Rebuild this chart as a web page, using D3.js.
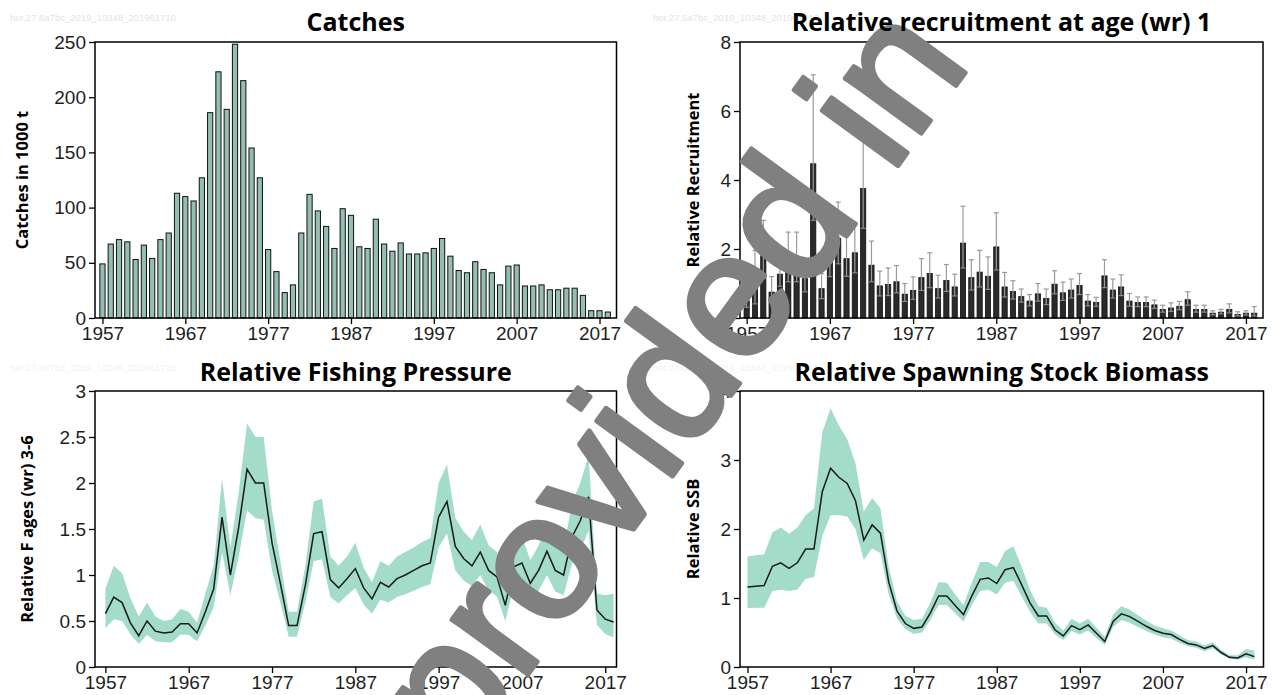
<!DOCTYPE html>
<html>
<head>
<meta charset="utf-8">
<script src="https://cdn.jsdelivr.net/npm/d3@7"></script>
<style>
body { margin: 0; background: #fff; }
svg text { font-family: "Liberation Sans Narrow", "Liberation Sans", Arial, sans-serif; }
.title, .ylab { font-family: "Open Sans", sans-serif; font-weight: 700; fill: #000; }
</style>
</head>
<body>
<svg id="chart" width="1274" height="695"></svg>
<script>
const FIRST_YEAR = 1957;
const yearTicks = [1957, 1967, 1977, 1987, 1997, 2007, 2017];
const catchTicks = [0, 50, 100, 150, 200, 250];
const recTicks = [0, 2, 4, 6, 8];
const fTicks = [0, 0.5, 1, 1.5, 2, 2.5, 3];
const ssbTicks = [0, 1, 2, 3, 4];

// catches in 1000 t, 1957-2018
const catches = [49, 67, 71, 69, 53, 66, 54, 71, 77, 113, 110, 106, 127, 186, 223, 189, 248, 215, 154, 127,
    62, 42, 23, 30, 77, 112, 97, 83, 63, 99, 93, 64.5, 63, 89.5, 67, 60.5, 68, 58, 58, 59,
    63, 72, 56, 43, 41, 51, 44, 41, 30, 47, 48, 29, 29, 30, 25.6, 25.6, 27, 27, 20.5, 6.6,
    6.6, 5.4];

// relative recruitment at age 1, 1957-2018, with interval
const recruit = [0.5, 0.9, 1.8, 0.75, 1.27, 1.55, 1.55, 1.14, 4.47, 0.85, 1.7, 2.3, 1.72, 1.89, 3.75, 1.53, 0.93, 0.97, 1.05, 0.69,
    0.8, 1.17, 1.29, 0.85, 1.09, 0.9, 2.17, 1.17, 1.33, 1.21, 2.06, 0.9, 0.77, 0.62, 0.49, 0.7, 0.57, 0.98, 0.73, 0.81,
    0.94, 0.49, 0.45, 1.22, 0.81, 0.9, 0.49, 0.45, 0.45, 0.38, 0.25, 0.29, 0.34, 0.53, 0.25, 0.25, 0.14, 0.17, 0.25, 0.1,
    0.14, 0.14];
const recruitHigh = [0.8, 1.96, 2.83, 1.2, 1.75, 2.49, 2.49, 1.72, 7.05, 1.29, 2.4, 3.36, 2.44, 2.73, 5.4, 2.23, 1.36, 1.45, 1.52, 1.0,
    1.19, 1.72, 1.89, 1.24, 1.55, 1.27, 3.24, 1.69, 1.96, 1.77, 3.05, 1.32, 1.08, 0.84, 0.68, 1.0, 0.84, 1.37, 1.04, 1.13,
    1.29, 0.68, 0.6, 1.69, 1.13, 1.25, 0.71, 0.61, 0.61, 0.52, 0.37, 0.44, 0.48, 0.76, 0.37, 0.37, 0.21, 0.25, 0.41, 0.18,
    0.21, 0.33];
const recruitLow = [0.31, 0.41, 1.14, 0.47, 0.92, 1.05, 1.05, 0.76, 2.83, 0.56, 1.2, 1.57, 1.21, 1.31, 2.6, 1.05, 0.64, 0.65, 0.73, 0.48,
    0.54, 0.8, 0.88, 0.58, 0.77, 0.64, 1.45, 0.81, 0.9, 0.83, 1.39, 0.61, 0.55, 0.46, 0.35, 0.49, 0.39, 0.7, 0.51, 0.58,
    0.68, 0.35, 0.34, 0.88, 0.58, 0.65, 0.34, 0.33, 0.33, 0.28, 0.17, 0.19, 0.24, 0.37, 0.17, 0.17, 0.09, 0.12, 0.15, 0.06,
    0.09, 0.06];

// relative F ages 3-6, 1957-2018
const fishing = [0.58, 0.76, 0.70, 0.48, 0.34, 0.50, 0.39, 0.37, 0.38, 0.47, 0.47, 0.37, 0.60, 0.85, 1.63, 1.0, 1.52, 2.15, 2.0, 2.0,
    1.35, 0.91, 0.45, 0.45, 0.89, 1.45, 1.47, 0.95, 0.86, 0.96, 1.07, 0.86, 0.74, 0.92, 0.87, 0.96, 1.0, 1.05, 1.1, 1.13,
    1.63, 1.80, 1.31, 1.18, 1.1, 1.25, 1.05, 0.98, 0.67, 1.09, 1.13, 0.91, 1.05, 1.26, 1.05, 1.0, 1.41, 1.59, 1.85, 0.62,
    0.52, 0.49];
const fishingHigh = [0.85, 1.1, 1.02, 0.75, 0.55, 0.7, 0.55, 0.5, 0.52, 0.63, 0.6, 0.48, 0.8, 1.1, 2.05, 1.3, 1.9, 2.65, 2.5, 2.5,
    1.7, 1.15, 0.6, 0.6, 1.1, 1.8, 1.83, 1.2, 1.1, 1.2, 1.35, 1.08, 0.92, 1.15, 1.1, 1.2, 1.25, 1.3, 1.36, 1.4,
    2.0, 2.2, 1.62, 1.47, 1.38, 1.55, 1.32, 1.25, 0.88, 1.38, 1.42, 1.16, 1.32, 1.58, 1.33, 1.28, 1.78, 2.0, 2.3, 0.8,
    0.78, 0.8];
const fishingLow = [0.42, 0.52, 0.5, 0.36, 0.25, 0.35, 0.28, 0.27, 0.27, 0.35, 0.35, 0.28, 0.45, 0.65, 1.25, 0.78, 1.2, 1.7, 1.62, 1.6,
    1.05, 0.7, 0.33, 0.33, 0.7, 1.15, 1.17, 0.76, 0.69, 0.78, 0.86, 0.68, 0.58, 0.73, 0.7, 0.76, 0.79, 0.83, 0.87, 0.9,
    1.3, 1.45, 1.05, 0.94, 0.88, 1.0, 0.83, 0.77, 0.5, 0.86, 0.9, 0.71, 0.83, 1.0, 0.82, 0.78, 1.12, 1.27, 1.48, 0.46,
    0.36, 0.32];

// relative SSB, 1957-2018
const ssb = [1.16, 1.17, 1.18, 1.46, 1.51, 1.43, 1.51, 1.71, 1.71, 2.54, 2.88, 2.75, 2.66, 2.41, 1.84, 2.06, 1.94, 1.23, 0.81, 0.63,
    0.56, 0.58, 0.78, 1.03, 1.03, 0.89, 0.76, 1.03, 1.27, 1.29, 1.21, 1.41, 1.44, 1.19, 0.93, 0.74, 0.74, 0.54, 0.45, 0.6,
    0.54, 0.61, 0.49, 0.37, 0.66, 0.77, 0.73, 0.66, 0.59, 0.53, 0.49, 0.47, 0.40, 0.34, 0.32, 0.27, 0.31, 0.21, 0.14, 0.13,
    0.19, 0.15];
const ssbHigh = [1.6, 1.62, 1.63, 1.95, 2.02, 1.93, 2.02, 2.2, 2.3, 3.4, 3.75, 3.5, 3.3, 2.95, 2.25, 2.45, 2.3, 1.45, 0.95, 0.74,
    0.68, 0.7, 0.93, 1.23, 1.22, 1.05, 0.9, 1.22, 1.52, 1.52, 1.45, 1.68, 1.75, 1.45, 1.12, 0.88, 0.86, 0.64, 0.53, 0.7,
    0.63, 0.7, 0.57, 0.44, 0.76, 0.88, 0.83, 0.75, 0.67, 0.6, 0.56, 0.53, 0.46, 0.39, 0.37, 0.31, 0.36, 0.25, 0.17, 0.17,
    0.26, 0.24];
const ssbLow = [0.85, 0.86, 0.86, 1.1, 1.12, 1.1, 1.12, 1.28, 1.3, 1.9, 2.2, 2.2, 2.18, 2.0, 1.55, 1.72, 1.65, 1.05, 0.7, 0.55,
    0.48, 0.5, 0.68, 0.9, 0.9, 0.78, 0.66, 0.9, 1.1, 1.12, 1.05, 1.22, 1.25, 1.02, 0.8, 0.63, 0.63, 0.47, 0.39, 0.52,
    0.47, 0.53, 0.42, 0.32, 0.58, 0.68, 0.64, 0.58, 0.52, 0.47, 0.43, 0.41, 0.35, 0.3, 0.28, 0.23, 0.27, 0.18, 0.12, 0.11,
    0.14, 0.11];

const BAND_COLOR = "#a3dcc8";
const BAR_COLOR = "#93bfae";
const svg = d3.select("#chart");
const marks = svg.append("g");
const overlay = svg.append("g");   // watermark sits above the plots
const titles = svg.append("g");    // titles stay readable on top

function panel(opt) {
    const x = d3.scaleLinear().domain(opt.xDomain).range([opt.left, opt.right]);
    const y = d3.scaleLinear().domain(opt.yDomain).range([opt.bottom, opt.top]);
    const g = marks.append("g");

    marks.append("text")
        .attr("x", opt.stampX).attr("y", opt.titleY - 10)
        .attr("font-size", 9.5).attr("fill", opt.stampColor)
        .style("font-family", "Liberation Sans, sans-serif")
        .text("her.27.6a7bc_2019_10348_201961710");

    titles.append("text")
        .attr("class", "title")
        .attr("x", (opt.left + opt.right) / 2).attr("y", opt.titleY)
        .attr("text-anchor", "middle").attr("font-size", 25)
        .text(opt.title);

    marks.append("text")
        .attr("class", "ylab")
        .attr("transform", `translate(${opt.ylabX},${(opt.top + opt.bottom) / 2}) rotate(-90)`)
        .attr("text-anchor", "middle").attr("font-size", 16.5)
        .text(opt.ylab);

    const yAxis = marks.append("g")
        .attr("transform", `translate(${opt.left},0)`)
        .call(d3.axisLeft(y).tickValues(opt.yTicks).tickSize(6).tickPadding(3).tickFormat(d3.format("")));
    const xAxis = marks.append("g")
        .attr("transform", `translate(0,${opt.bottom})`)
        .call(d3.axisBottom(x).tickValues(yearTicks).tickSize(6).tickPadding(3).tickFormat(d3.format("d")));
    [yAxis, xAxis].forEach(a => {
        a.select(".domain").remove();
        a.selectAll("line").attr("stroke", "#000").attr("stroke-width", 1.3);
        a.selectAll("text").attr("font-size", 19).attr("fill", "#1e1e1e")
            .style("font-family", "'Liberation Sans Narrow', 'Liberation Sans', sans-serif");
    });

    return { x, y, g, opt };
}

function frame(p) {
    marks.append("rect")
        .attr("x", p.opt.left).attr("y", p.opt.top)
        .attr("width", p.opt.right - p.opt.left).attr("height", p.opt.bottom - p.opt.top)
        .attr("fill", "none").attr("stroke", "#000").attr("stroke-width", 1.5);
}

const years = d3.range(FIRST_YEAR, FIRST_YEAR + catches.length);

// Catches
const p1 = panel({ left: 95, right: 616.5, top: 42, bottom: 318, xDomain: [1956.1, 2019.05], yDomain: [0, 250],
    yTicks: catchTicks, title: "Catches", titleY: 31, ylab: "Catches in 1000 t", ylabX: 28, stampX: 10, stampColor: "#e4e4e4" });
p1.g.selectAll("rect").data(catches).join("rect")
    .attr("x", (d, i) => p1.x(years[i]) - 2.6)
    .attr("width", 5.2)
    .attr("y", d => p1.y(d))
    .attr("height", d => p1.y(0) - p1.y(d))
    .attr("fill", BAR_COLOR).attr("stroke", "#111").attr("stroke-width", 1);
frame(p1);

// Recruitment
const p2 = panel({ left: 740, right: 1263, top: 42, bottom: 318, xDomain: [1956.2, 2019.05], yDomain: [0, 8],
    yTicks: recTicks, title: "Relative recruitment at age (wr) 1", titleY: 31, ylab: "Relative Recruitment", ylabX: 699,
    stampX: 653, stampColor: "#e4e4e4" });
p2.g.selectAll("rect").data(recruit).join("rect")
    .attr("x", (d, i) => p2.x(years[i]) - 2.6)
    .attr("width", 5.2)
    .attr("y", d => p2.y(d))
    .attr("height", d => p2.y(0) - p2.y(d))
    .attr("fill", "#2a2a2a").attr("stroke", "#111").attr("stroke-width", 0.8);
const err = p2.g.selectAll("g.err").data(recruit).join("g").attr("class", "err");
err.append("line")
    .attr("x1", (d, i) => p2.x(years[i])).attr("x2", (d, i) => p2.x(years[i]))
    .attr("y1", (d, i) => p2.y(recruitLow[i])).attr("y2", (d, i) => p2.y(recruitHigh[i]))
    .attr("stroke", "#9a9a9a").attr("stroke-width", 1.2);
err.append("line")
    .attr("x1", (d, i) => p2.x(years[i]) - 2.5).attr("x2", (d, i) => p2.x(years[i]) + 2.5)
    .attr("y1", (d, i) => p2.y(recruitHigh[i])).attr("y2", (d, i) => p2.y(recruitHigh[i]))
    .attr("stroke", "#9a9a9a").attr("stroke-width", 1.2);
err.append("line")
    .attr("x1", (d, i) => p2.x(years[i]) - 2.5).attr("x2", (d, i) => p2.x(years[i]) + 2.5)
    .attr("y1", (d, i) => p2.y(recruitLow[i])).attr("y2", (d, i) => p2.y(recruitLow[i]))
    .attr("stroke", "#8a8a8a").attr("stroke-width", 1.2);
frame(p2);

// Fishing pressure
const p3 = panel({ left: 95, right: 616.5, top: 391, bottom: 667, xDomain: [1955.75, 2018.35], yDomain: [0, 3],
    yTicks: fTicks, title: "Relative Fishing Pressure", titleY: 381, ylab: "Relative F ages (wr) 3-6", ylabX: 33,
    stampX: 10, stampColor: "#f2f2f2" });
p3.g.append("path")
    .datum(years)
    .attr("fill", BAND_COLOR)
    .attr("d", d3.area().x(d => p3.x(d)).y0((d, i) => p3.y(fishingLow[i])).y1((d, i) => p3.y(fishingHigh[i])));
p3.g.append("path")
    .datum(years)
    .attr("fill", "none").attr("stroke", "#1a1a1a").attr("stroke-width", 1.5)
    .attr("d", d3.line().x(d => p3.x(d)).y((d, i) => p3.y(fishing[i])));
frame(p3);

// SSB
const p4 = panel({ left: 740, right: 1263.5, top: 391, bottom: 667, xDomain: [1956.1, 2019.1], yDomain: [0, 4],
    yTicks: ssbTicks, title: "Relative Spawning Stock Biomass", titleY: 381, ylab: "Relative SSB", ylabX: 699,
    stampX: 653, stampColor: "#f2f2f2" });
p4.g.append("path")
    .datum(years)
    .attr("fill", BAND_COLOR)
    .attr("d", d3.area().x(d => p4.x(d)).y0((d, i) => p4.y(ssbLow[i])).y1((d, i) => p4.y(ssbHigh[i])));
p4.g.append("path")
    .datum(years)
    .attr("fill", "none").attr("stroke", "#1a1a1a").attr("stroke-width", 1.5)
    .attr("d", d3.line().x(d => p4.x(d)).y((d, i) => p4.y(ssb[i])));
frame(p4);

// watermark across the figure
overlay.append("text")
    .attr("transform", "translate(463,764) rotate(-54)")
    .attr("font-size", 177)
    .attr("fill", "#808080")
    .attr("stroke", "#808080")
    .attr("stroke-width", 5)
    .attr("stroke-linejoin", "round")
    .style("font-family", "'Liberation Sans', Arial, sans-serif")
    .text("provided in");
</script>
</body>
</html>
